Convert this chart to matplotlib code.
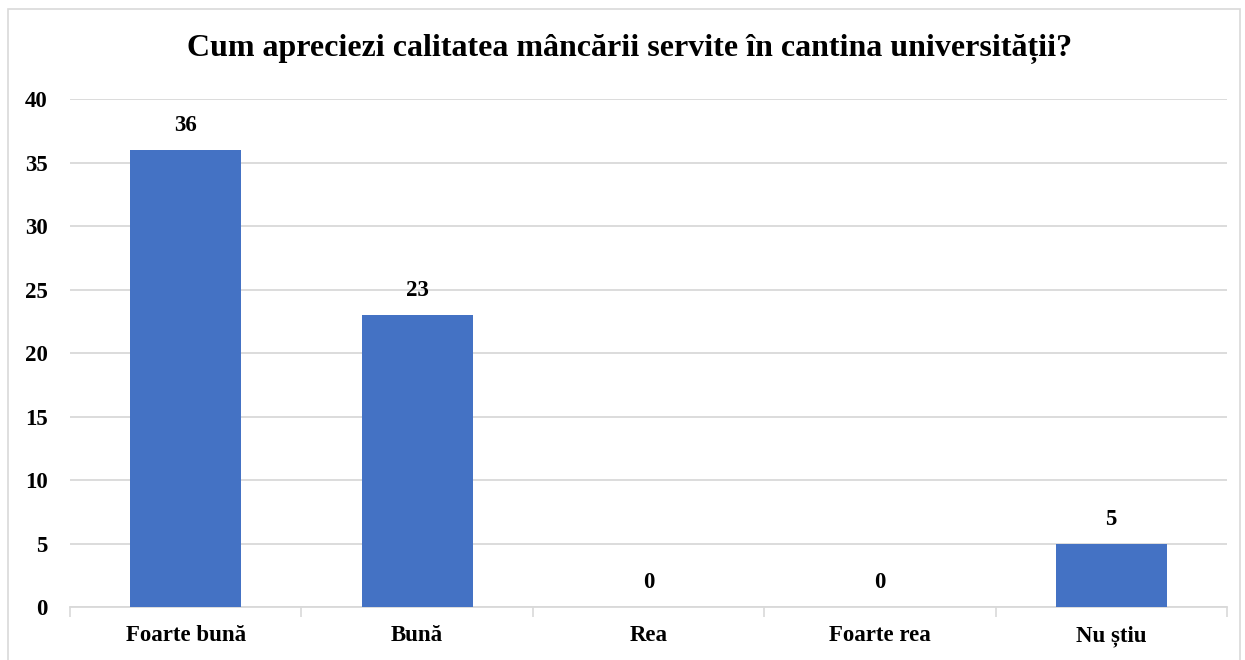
import numpy as np
import matplotlib.pyplot as plt
from matplotlib.patches import Rectangle

categories = ["Foarte bun\u0103", "Bun\u0103", "Rea", "Foarte rea", "Nu \u0219tiu"]
values = [36, 23, 0, 0, 5]
yticks = [0, 5, 10, 15, 20, 25, 30, 35, 40]
title = "Cum apreciezi calitatea m\u00e2nc\u0103rii servite \u00een cantina universit\u0103\u021bii?"

plt.rcParams['font.family'] = ['Liberation Serif', 'DejaVu Serif']
plt.rcParams['font.weight'] = 'bold'

fig = plt.figure(figsize=(12.45, 6.6), dpi=100)
ax = fig.add_axes([0.0562, 0.0803, 0.9293, 0.7697])

x = np.arange(len(categories))
bars = ax.bar(x, values, width=0.48, color='#4472c4', zorder=3)

for xi, v in zip(x, values):
    ax.text(xi, v + 1.1, str(v), ha='center', va='bottom',
            fontsize=16.5, fontweight='bold')

ax.set_xlim(-0.5, len(categories) - 0.5)
ax.set_ylim(0, 40)
ax.set_yticks(yticks)
ax.set_yticklabels([str(t) for t in yticks], fontsize=16.5, fontweight='bold')
ax.set_xticks(x)
ax.set_xticklabels(categories, fontsize=16.5, fontweight='bold')
ax.set_xticks(np.arange(-0.5, len(categories), 1), minor=True)

ax.tick_params(axis='y', length=0, pad=16)
ax.tick_params(axis='x', which='major', length=0, pad=13)
ax.tick_params(axis='x', which='minor', length=7, color='#d9d9d9', width=1.2)

ax.grid(axis='y', color='#d9d9d9', linewidth=1.3, zorder=0)
for s in ['top', 'right', 'left']:
    ax.spines[s].set_visible(False)
ax.spines['bottom'].set_color('#d9d9d9')
ax.spines['bottom'].set_linewidth(1.3)

fig.text(0.5055, 0.925, title, ha='center', va='center', fontsize=23, fontweight='bold')

fig.patches.append(Rectangle((8 / 1245, -0.01), 1232 / 1245, 1 - 9 / 660 + 0.01,
                             transform=fig.transFigure, fill=False,
                             edgecolor='#d9d9d9', linewidth=1.2))

fig.savefig('out.png', dpi=100)
